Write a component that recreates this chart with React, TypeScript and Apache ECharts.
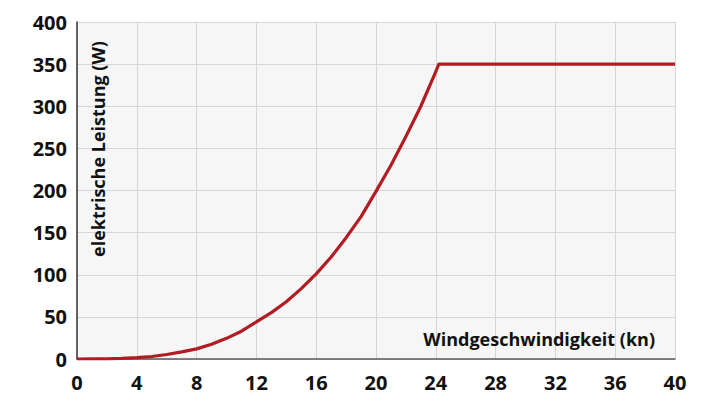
import { useRef, useEffect } from "react";
import * as echarts from "echarts";

// wind speed in knots and electrical power in watts
const windSpeed = [0, 1, 2, 3, 4, 5, 6, 7, 8, 9, 10, 11, 12, 13, 14, 15, 16, 17, 18, 19, 20, 21, 22, 23, 24, 24.2, 28, 32, 36, 40];
const power = [0, 0.1, 0.2, 0.7, 1.6, 3, 5.3, 8.4, 12, 17.5, 24.5, 33, 44, 55, 68, 83.5, 101, 121, 144, 169, 199, 230, 264, 300, 341, 350, 350, 350, 350, 350];

const xTicks = [0, 4, 8, 12, 16, 20, 24, 28, 32, 36, 40];
const yTicks = [0, 50, 100, 150, 200, 250, 300, 350, 400];

const yTitle = "elektrische Leistung (W)";
const xTitle = "Windgeschwindigkeit (kn)";

const FONT = "'Open Sans', Lato, sans-serif";

export default function App() {
  const chartRef = useRef<HTMLDivElement>(null);

  useEffect(() => {
    if (!chartRef.current) return;
    const chart = echarts.init(chartRef.current, null, { renderer: "svg" });

    const option: echarts.EChartsOption = {
      animation: false,
      grid: {
        left: 77,
        right: 37,
        top: 22,
        bottom: 42,
        show: true,
        backgroundColor: "#f6f6f6",
        borderWidth: 0,
      },
      xAxis: {
        type: "value",
        min: xTicks[0],
        max: xTicks[xTicks.length - 1],
        interval: 4,
        axisLine: { lineStyle: { color: "#5a5a5a", width: 1.5 } },
        axisTick: { show: false },
        axisLabel: {
          color: "#111",
          fontFamily: FONT,
          fontWeight: "bold",
          fontSize: 20,
          margin: 13,
        },
        splitLine: { show: true, lineStyle: { color: "#d6d6d6", width: 1 } },
      },
      yAxis: {
        type: "value",
        min: yTicks[0],
        max: yTicks[yTicks.length - 1],
        interval: 50,
        axisLine: { show: true, lineStyle: { color: "#333", width: 1.5 } },
        axisTick: { show: false },
        axisLabel: {
          color: "#111",
          fontFamily: FONT,
          fontWeight: "bold",
          fontSize: 20,
          margin: 10,
        },
        splitLine: { show: true, lineStyle: { color: "#d6d6d6", width: 1 } },
      },
      graphic: [
        {
          type: "text",
          x: 98,
          y: 257,
          rotation: Math.PI / 2,
          z: 10,
          style: {
            text: yTitle,
            fill: "#111",
            font: `bold 18px ${FONT}`,
            textAlign: "left",
            textVerticalAlign: "middle",
          },
        },
        {
          type: "text",
          x: 655,
          y: 339,
          z: 10,
          style: {
            text: xTitle,
            fill: "#111",
            font: `bold 18px ${FONT}`,
            textAlign: "right",
            textVerticalAlign: "middle",
          },
        },
      ],
      series: [
        {
          type: "line",
          data: windSpeed.map((v, i) => [v, power[i]]),
          showSymbol: false,
          smooth: false,
          lineStyle: { color: "#b01c22", width: 3.2 },
          z: 5,
        },
      ],
    };

    chart.setOption(option);

    return () => {
      chart.dispose();
    };
  }, []);

  return (
    <div
      ref={chartRef}
      style={{ width: "712px", height: "401px", position: "absolute", left: 0, top: 0 }}
    />
  );
}
